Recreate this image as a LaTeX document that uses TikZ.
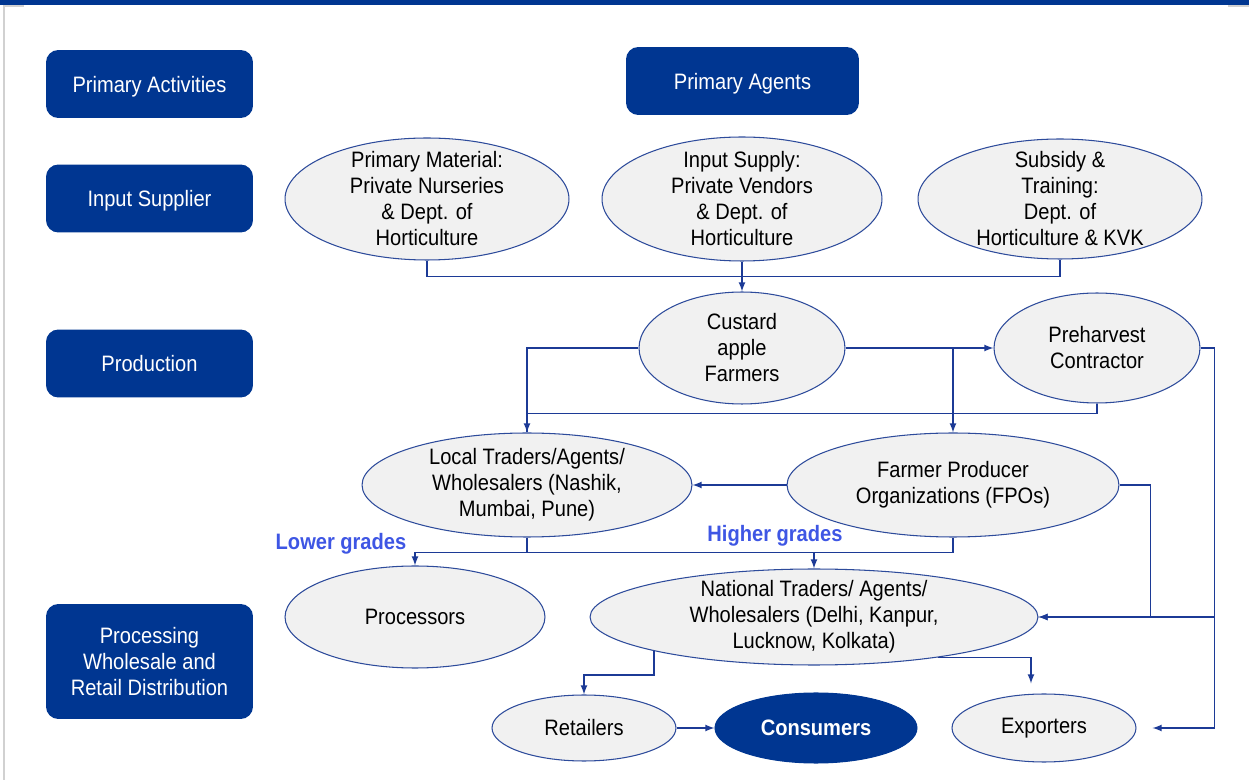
\documentclass[tikz,border=0pt]{standalone}
\usepackage{fontspec}
\setmainfont{Liberation Sans}[FakeStretch=0.9]
\usetikzlibrary{shapes.geometric}
\definecolor{navy}{RGB}{0,54,145}
\definecolor{rim}{RGB}{45,75,155}
\definecolor{bubfill}{RGB}{241,241,241}
\definecolor{wire}{RGB}{28,58,150}
\definecolor{gradeblue}{RGB}{62,86,228}
\begin{document}
\begin{tikzpicture}[x=0.02cm,y=-0.02cm,
	font=\fontsize{12.7}{14.8}\selectfont,
	side/.style={rounded corners=7pt,fill=navy,text=white,minimum width=4.14cm,minimum height=1.36cm,align=center,text depth=0pt},
	bub/.style={ellipse,draw=rim,fill=bubfill,line width=0.6pt,inner sep=0pt},
	txt/.style={align=center},
	ln/.style={draw=wire,line width=0.8pt},
	arr/.style={ln,-latex},
	grade/.style={text=gradeblue,font=\fontsize{12.7}{14.8}\selectfont\bfseries}]
	\useasboundingbox (0,0) rectangle (1249,780);
	\fill[navy] (0,0) rectangle (1249,5);
	\draw[black!18,line width=0.6pt] (4,780) -- (4,6) -- (24,6) (1228,6) -- (1249,6);
	
	\node[side] (act) at (149.5,84) {Primary Activities};
	\node[side] (sup) at (149.5,198.5) {Input Supplier};
	\node[side] (prd) at (149.5,363.5) {Production};
	\node[side,minimum height=2.3cm] (dist) at (149.5,661.5) {Processing\\Wholesale and\\Retail Distribution};
	\node[side,minimum width=4.66cm] (agt) at (742.5,81) {Primary Agents};
	
	\node[bub,minimum width=5.68cm,minimum height=2.44cm,label={[txt]center:{Primary Material:\\Private Nurseries\\\& Dept. of\\Horticulture}}] (mat) at (427,199) {};
	\node[bub,minimum width=5.6cm,minimum height=2.48cm,label={[txt]center:{Input Supply:\\Private Vendors\\\& Dept. of\\Horticulture}}] (inp) at (742,199) {};
	\node[bub,minimum width=5.68cm,minimum height=2.4cm,label={[txt]center:{Subsidy \&\\Training:\\Dept. of\\Horticulture \& KVK}}] (sub) at (1060,199) {};
	\node[bub,minimum width=4.12cm,minimum height=2.24cm,label={[txt]center:{Custard\\apple\\Farmers}}] (farm) at (742,348) {};
	\node[bub,minimum width=4.12cm,minimum height=2.2cm,label={[txt]center:{Preharvest\\Contractor}}] (pre) at (1097,348) {};
	\node[bub,minimum width=6.6cm,minimum height=2.08cm,label={[txt]center:{Local Traders/Agents/\\Wholesalers (Nashik,\\Mumbai, Pune)}}] (loc) at (527,485) {};
	\node[bub,minimum width=6.64cm,minimum height=2.08cm,label={[txt]center:{Farmer Producer\\Organizations (FPOs)}}] (fpo) at (953,485) {};
	\node[bub,minimum width=5.2cm,minimum height=2.04cm,label={[txt]center:{Processors}}] (proc) at (415,617) {};
	\node[bub,minimum width=8.96cm,minimum height=1.92cm,label={[txt]center:{National Traders/ Agents/\\Wholesalers (Delhi, Kanpur,\\Lucknow, Kolkata)}}] (nat) at (814,617) {};
	\node[bub,minimum width=3.68cm,minimum height=1.32cm,label={[txt]center:{Retailers}}] (ret) at (584,728) {};
	\node[bub,fill=navy,draw=navy,minimum width=4.04cm,minimum height=1.4cm,label={[txt,text=white,font=\fontsize{12.7}{14.8}\selectfont\bfseries]center:{Consumers}}] (con) at (816,728) {};
	\node[bub,minimum width=3.68cm,minimum height=1.36cm,label={[txt]center:{Exporters}}] (exp) at (1044,728) {};
	
	\node[grade] (lg) at (341,544) {Lower grades};
	\node[grade] (hg) at (775,536) {Higher grades};
	
	\draw[ln] (mat.south) -- ++(0,16) -| (sub.south);
	\draw[arr] (inp.south) -- (farm.north);
	\draw[arr] (farm.west) -| (loc.north);
	\draw[arr] (farm.east) -- (pre.west);
	\draw[arr] (fpo.north |- farm.east) -- (fpo.north);
	\draw[ln] (pre.south) -- ++(0,10) -| (loc.north);
	\draw[arr] (fpo.west) -- (loc.east);
	\draw[arr] (fpo.east) -- ++(31,0) |- (nat.east);
	\draw[arr] (pre.east) -- ++(14,0) |- (nat.east);
	\draw[arr] (pre.east) -- ++(14,0) |- ([xshift=0.32cm]exp.east);
	\draw[ln] (loc.south) -- ++(0,15) -| (fpo.south);
	\draw[arr] (loc.south) ++(0,15) -| (proc.north);
	\draw[arr] (loc.south) ++(0,15) -| (nat.north);
	\draw[arr] (nat.192) -- ++(0,24) -| (ret.north);
	\draw[arr] (nat.342) -| ([shift={(-13,-10)}]exp.north);
	\draw[arr] (ret.east) -- (con.west);
\end{tikzpicture}
\end{document}
